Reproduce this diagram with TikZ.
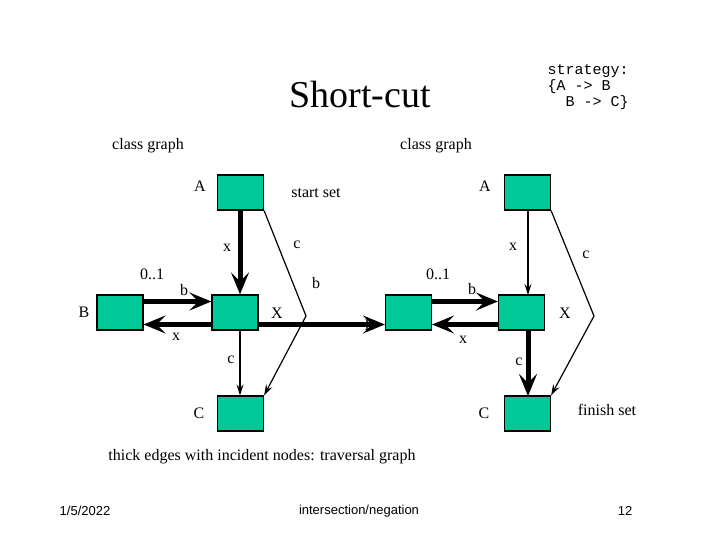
\documentclass[tikz,border=0pt]{standalone}
\usepackage{fontspec}
\setmainfont{Liberation Serif}
\setmonofont{Liberation Mono}
\setsansfont{Liberation Sans}
\usetikzlibrary{arrows.meta}
\begin{document}
\begin{tikzpicture}[x=1pt,y=-1pt,
  box/.style={draw,line width=1.2pt,fill={rgb,255:red,0;green,200;blue,150},minimum width=46pt,minimum height=35pt,inner sep=0pt},
  lbl/.style={font=\fontsize{16}{18}\selectfont,inner sep=0pt},
  thick edge/.style={line width=5pt,-{Stealth[length=22pt,width=18pt,inset=9pt]}},
  thin edge/.style={line width=1.2pt,-{Stealth[length=11pt,width=7pt,inset=4pt]}}]
\useasboundingbox (0,0) rectangle (720,540);
\node[font=\fontsize{38}{40}\selectfont] (title) at (360,95) {Short-cut};
\node[font=\ttfamily\fontsize{15}{16}\selectfont,align=left] (strat) at (588,87) {strategy:\\ \{A -> B\\ \ \ B -> C\}};
\node[lbl] (cg1) at (148,146) {class graph};
\node[lbl] (cg2) at (436,146) {class graph};
% left graph
\node[box] (A1) at (240.5,192.5) {};
\node[box] (X1) at (235,312.5) {};
\node[box] (B1) at (120,312.5) {};
\node[box] (C1) at (240.5,413.5) {};
\coordinate (K1) at (306,316);
\draw[thick edge] (A1.south -| X1.north) ++(5,0) coordinate (a1s) -- (X1.north -| a1s);
\draw[thin edge] (X1.south -| a1s) -- (C1.north -| a1s);
\draw[line width=1.2pt] (A1.south east) -- (K1);
\draw[thin edge] (K1) -- (C1.north east);
\draw[thick edge] ([yshift=-12pt]X1.west) -- ([yshift=-12pt]B1.east);
\draw[thick edge] ([yshift=11pt]B1.east) -- ([yshift=11pt]X1.west);
% right graph
\node[box] (A2) at (527.5,192.5) {};
\node[box] (X2) at (521.5,312.5) {};
\node[box] (B2) at (408.5,312.5) {};
\node[box] (C2) at (527.5,413.5) {};
\coordinate (K2) at (594,316);
\draw[thick edge] ([yshift=-12pt]X1.east) -- ([yshift=-12pt]B2.west);
\draw[thin edge] (528,210) -- (528,295);
\draw[thick edge] (528,330) -- (528,396);
\draw[line width=1.2pt] (A2.south east) -- (K2);
\draw[thin edge] (K2) -- (C2.north east);
\draw[thick edge] ([yshift=-12pt]X2.west) -- ([yshift=-12pt]B2.east);
\draw[thick edge] ([yshift=11pt]B2.east) -- ([yshift=11pt]X2.west);
% labels left
\node[lbl] (lA1) at (200,186) {A};
\node[lbl] (ss) at (316,193) {start set};
\node[lbl] (lx1) at (227,248) {x};
\node[lbl] (lc1) at (297,245) {c};
\node[lbl] (l011) at (152,274) {0..1};
\node[lbl] (lb1) at (184,290) {b};
\node[lbl] (lb1r) at (316,283) {b};
\node[lbl] (lX1) at (277,313) {X};
\node[lbl] (lB1) at (84,312) {B};
\node[lbl] (lxx1) at (176,337) {x};
\node[lbl] (lcc1) at (231,360) {c};
\node[lbl] (lC1) at (199,413) {C};
% labels right
\node[lbl] (lA2) at (485,186) {A};
\node[lbl] (lx2) at (513,247) {x};
\node[lbl] (lc2) at (586,255) {c};
\node[lbl] (l012) at (438,274) {0..1};
\node[lbl] (lb2) at (472,289) {b};
\node[lbl] (lX2) at (565,313) {X};
\node[lbl] (lB2) at (370,325) {B};
\node[lbl] (lxx2) at (463,340) {x};
\node[lbl] (lcc2) at (519,362) {c};
\node[lbl] (lC2) at (484,413) {C};
\node[lbl] (fs) at (607,410) {finish set};
\node[lbl] (note) at (262,457) {thick edges with incident nodes: traversal graph};
\node[font=\sffamily\fontsize{13}{14}\selectfont] (f1) at (85,511) {1/5/2022};
\node[font=\sffamily\fontsize{13}{14}\selectfont] (f2) at (359,511) {intersection/negation};
\node[font=\sffamily\fontsize{13}{14}\selectfont] (f3) at (625,511) {12};
\end{tikzpicture}
\end{document}
